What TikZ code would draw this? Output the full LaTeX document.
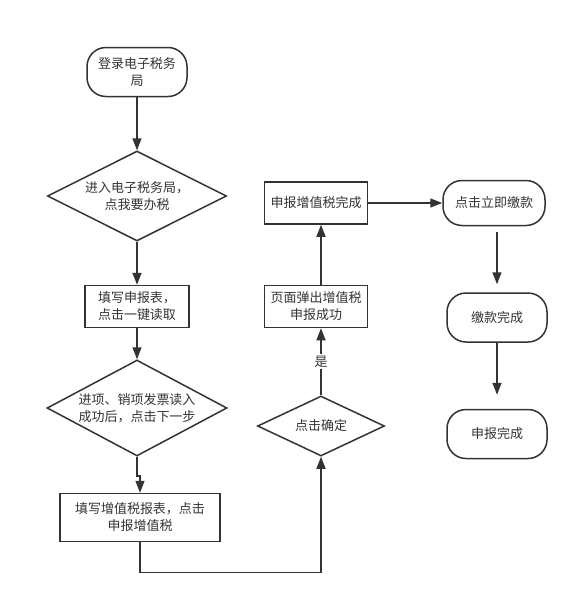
\documentclass[tikz,border=0pt]{standalone}
\usepackage{fontspec}
\newfontfamily\cjk{Noto Sans CJK SC}
\usepackage{xcolor}
\usepackage{tikz}
\usetikzlibrary{shapes.geometric, arrows.meta, positioning}
\definecolor{flowline}{HTML}{333333}

\begin{document}
\begin{tikzpicture}[
    x=1pt, y=1pt,
    every node/.style={font=\cjk\fontsize{13}{17}\selectfont, text=flowline},
    terminal/.style={
        rectangle,
        rounded corners=19pt,
        draw=flowline,
        line width=1.5pt,
        minimum height=49pt,
        minimum width=100pt,
        align=center
    },
    procbox/.style={
        rectangle,
        draw=flowline,
        line width=1.5pt,
        minimum height=42pt,
        minimum width=103pt,
        align=center
    },
    decision/.style={
        diamond,
        aspect=2,
        inner sep=0pt,
        draw=flowline,
        line width=1.5pt,
        align=center
    },
    flowarrow/.style={
        -{Triangle[length=12pt, width=9pt]},
        line width=1.5pt,
        draw=flowline
    }
]
\useasboundingbox (0,0) rectangle (577,-598);

% Left column
\node[terminal] (login) at (137,-72) {登录电子税务\\局};
\node[decision, minimum width=179pt, minimum height=90pt, below=53pt of login] (enter) {进入电子税务局，\\点我要办税};
\node[procbox, minimum width=104pt, below=43pt of enter] (fill) {填写申报表，\\点击一键读取};
\node[decision, minimum width=180pt, minimum height=96pt, below=31pt of fill] (invoice) {进项、销项发票读入\\成功后，点击下一步};
\node[procbox, minimum width=160pt, minimum height=48pt, below=36pt of invoice, xshift=3pt] (vat) {填写增值税报表，点击\\申报增值税};

% Middle column
\node[procbox, right=74pt of fill] (popup) {页面弹出增值税\\申报成功};
\node[procbox, above=60pt of popup] (done) {申报增值税完成};
\node[decision, minimum width=127pt, minimum height=60pt, below=67pt of popup, xshift=5pt] (confirm) {点击确定};

% Payment column
\node[terminal, minimum width=102pt, minimum height=45pt, right=74pt of done] (pay) {点击立即缴款};
\node[terminal, below=66pt of pay, xshift=3pt] (paid) {缴款完成};
\node[terminal, below=66pt of paid] (finish) {申报完成};

% Arrows
\draw[flowarrow] (login) -- (enter);
\draw[flowarrow] (enter) -- (fill);
\draw[flowarrow] (fill) -- (invoice);
\draw[flowarrow] (invoice.south) -- ++(0,-19) -| (vat.north);
\draw[flowarrow] (vat.south) -- ++(0,-30) -| (confirm.south);
\draw[flowarrow] (confirm.north) -- node[fill=white, inner sep=2pt] (yes) {是} (confirm.north |- popup.south);
\draw[flowarrow] (confirm.north |- popup.north) -- (confirm.north |- done.south);
\draw[flowarrow] (done) -- (pay);
\draw[flowarrow, shorten <=6pt, shorten >=8pt] (pay.south -| paid.north) -- (paid.north);
\draw[flowarrow, shorten >=14pt] (paid) -- (finish);

\end{tikzpicture}
\end{document}
